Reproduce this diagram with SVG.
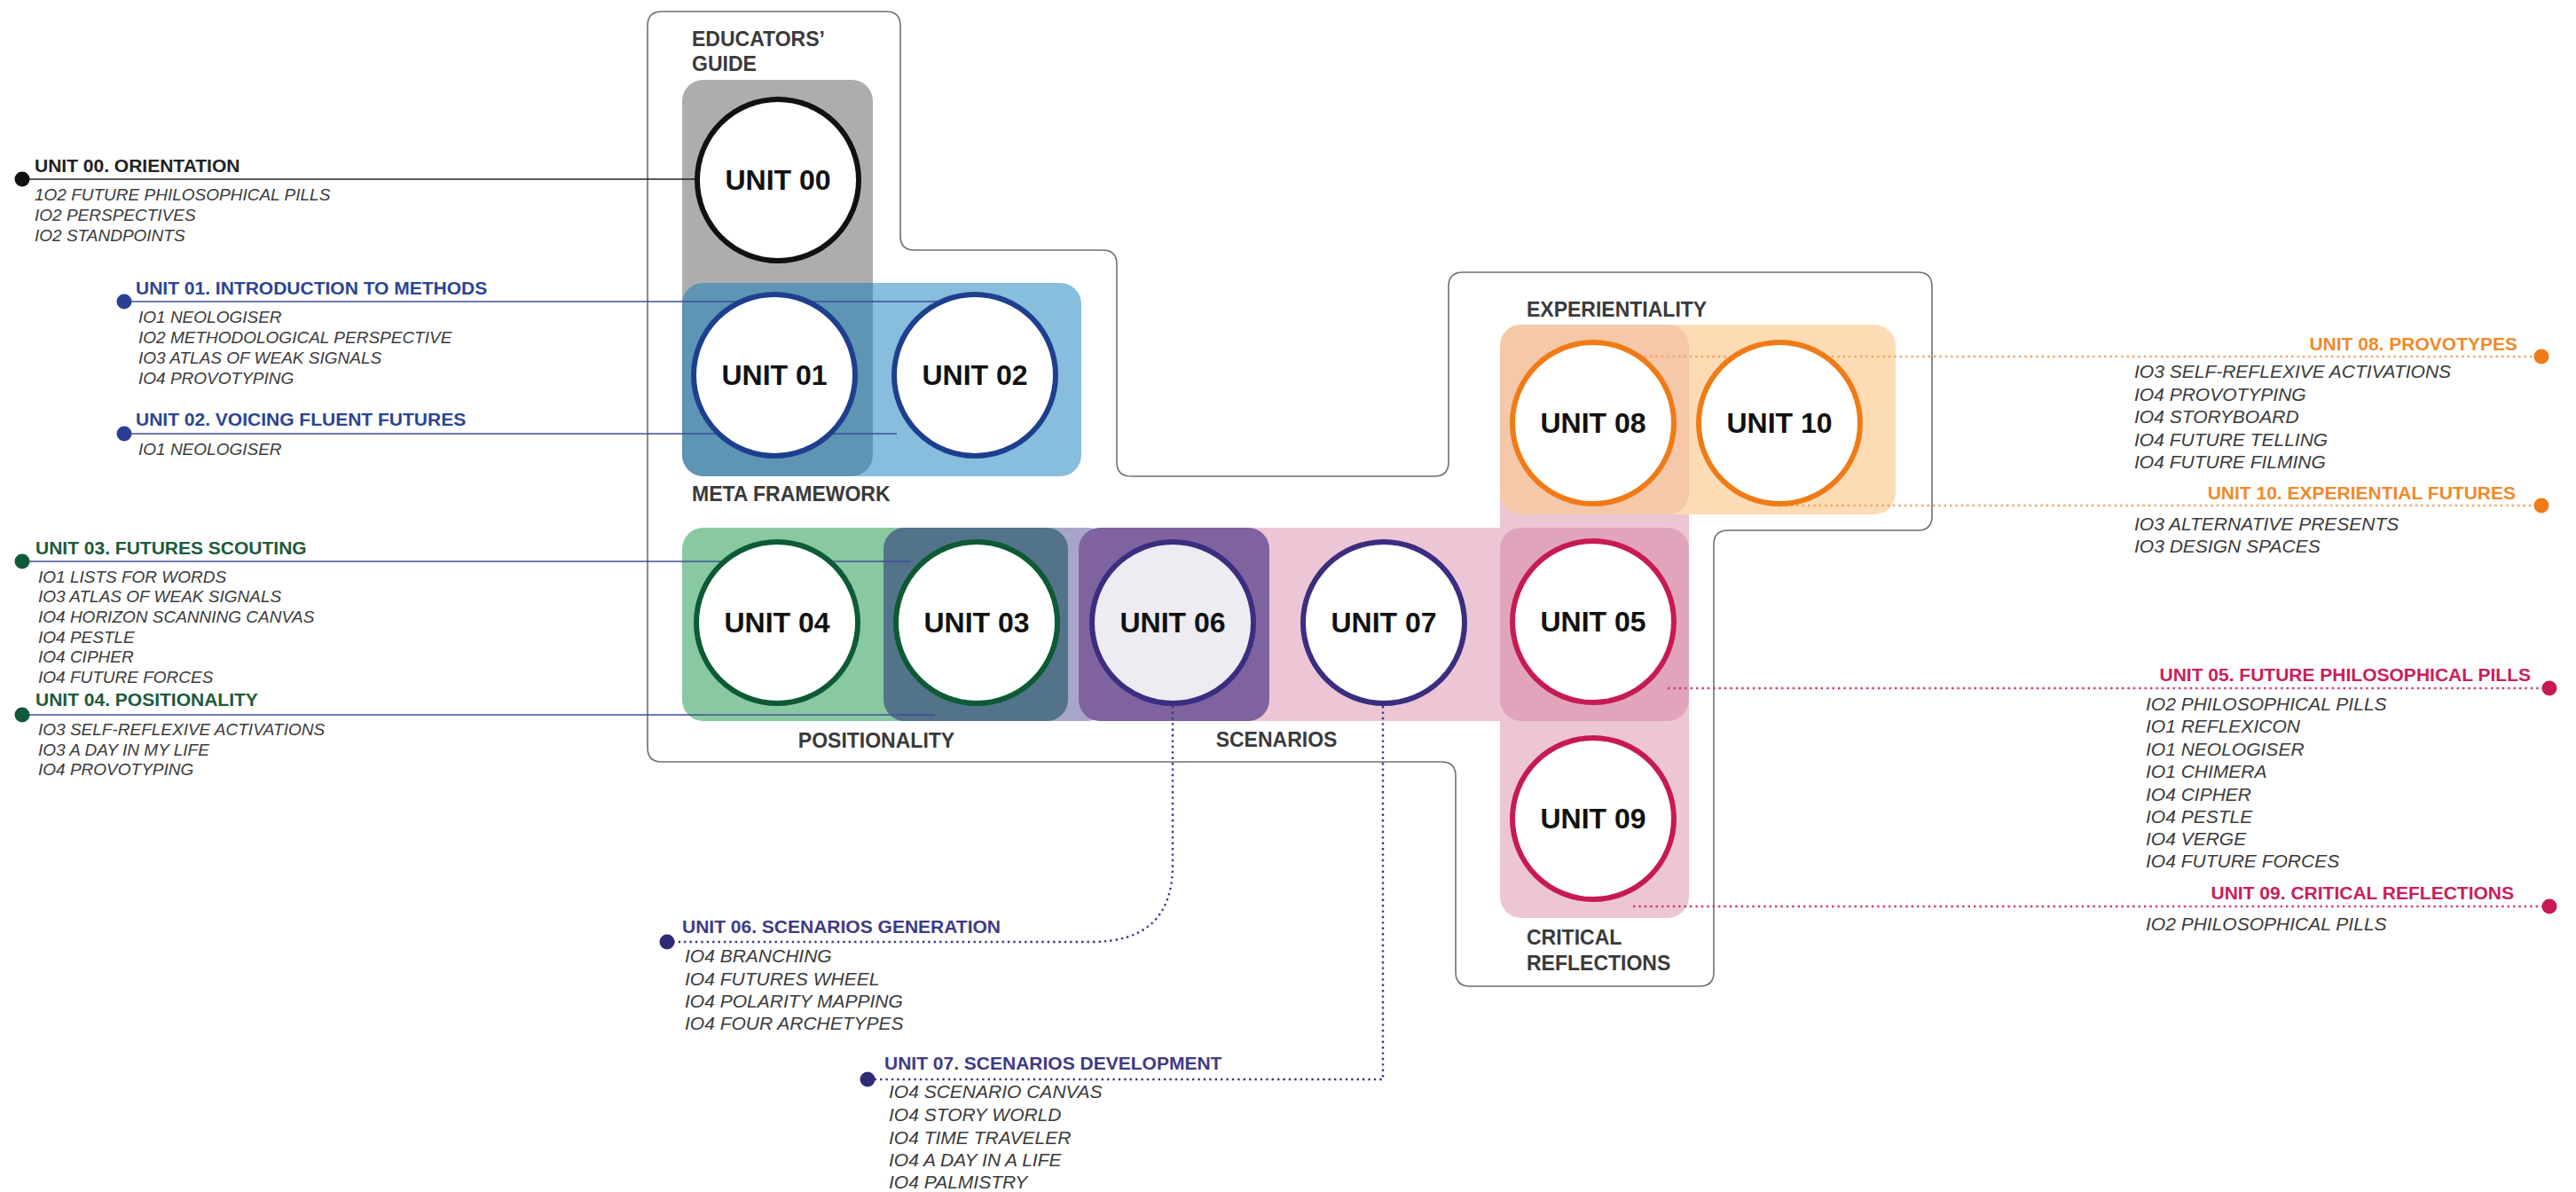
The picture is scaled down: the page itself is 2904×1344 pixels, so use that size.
<svg xmlns="http://www.w3.org/2000/svg" width="2904" height="1344" viewBox="0 0 2904 1344">
<style>
text{font-family:"Liberation Sans",Arial,Helvetica,sans-serif}
.grp{font-size:23px;font-weight:bold;fill:#3a3a3a}
.big{font-size:32px;font-weight:bold;fill:#111;text-anchor:middle}
.hd{font-size:21px;font-weight:bold}
.itL{font-size:19px;font-style:italic;fill:#3a3a3a}
.itR{font-size:21px;font-style:italic;fill:#3a3a3a}
.circ{fill:#fff;stroke-width:6}
.solid{fill:none;stroke-width:1.6}
.dot{fill:none;stroke-width:2.4;stroke-dasharray:2.4 4}
</style>
<rect width="2904" height="1344" fill="#fff"/>
<g id="outline">
<path d="M 746,13 H 999 Q 1015,13 1015,29 V 266 Q 1015,282 1031,282 H 1243 Q 1259,282 1259,298 V 521 Q 1259,537 1275,537 H 1617 Q 1633,537 1633,521 V 323 Q 1633,307 1649,307 H 2162 Q 2178,307 2178,323 V 582 Q 2178,598 2162,598 H 1948 Q 1932,598 1932,614 V 1096 Q 1932,1112 1916,1112 H 1657 Q 1641,1112 1641,1096 V 875 Q 1641,859 1625,859 H 746 Q 730,859 730,843 V 29 Q 730,13 746,13 Z" fill="none" stroke="#707070" stroke-width="1.6"/>
</g>
<g id="group-backgrounds">
<rect x="769" y="90" width="215" height="447" rx="24" fill="#adadad"/>
<rect x="769" y="319" width="450" height="218" rx="24" fill="#0f7cbc" fill-opacity="0.5"/>
<rect x="1232" y="595" width="672" height="218" rx="24" fill="#ecc6d5"/>
<rect x="996" y="595" width="254" height="218" rx="24" fill="#a7a5ca"/>
<rect x="769" y="595" width="435" height="218" rx="24" fill="#88c9a1"/>
<rect x="996" y="595" width="208" height="218" rx="24" fill="#52738a"/>
<rect x="1216" y="595" width="215" height="218" rx="24" fill="#7f63a1"/>
<rect x="1691" y="366" width="213" height="669" rx="24" fill="#ecc6d5"/>
<rect x="1691" y="595" width="213" height="218" rx="24" fill="#e0a5bd"/>
<rect x="1691" y="366" width="446" height="214" rx="24" fill="#fddcb5"/>
<rect x="1691" y="366" width="213" height="214" rx="24" fill="#f4c8a8"/>
</g>
<g id="group-labels">
<text class="grp" x="780" y="52">EDUCATORS’</text>
<text class="grp" x="780" y="80">GUIDE</text>
<text class="grp" x="780" y="565">META FRAMEWORK</text>
<text class="grp" x="1721" y="357">EXPERIENTIALITY</text>
<text class="grp" x="988" y="843" text-anchor="middle">POSITIONALITY</text>
<text class="grp" x="1439" y="842" text-anchor="middle">SCENARIOS</text>
<text class="grp" x="1721" y="1065">CRITICAL</text>
<text class="grp" x="1721" y="1094">REFLECTIONS</text>
</g>
<g id="connectors">
<path class="solid" stroke="#222" d="M 25,202 H 785"/>
<path class="solid" stroke="#3a4f9e" d="M 140,340 H 1057"/>
<path class="solid" stroke="#3a4f9e" d="M 140,489 H 1011"/>
<path class="solid" stroke="#3f4f96" d="M 25,633 H 1027"/>
<path class="solid" stroke="#3f4f96" d="M 25,806 H 1054"/>
<path class="dot" stroke="#3f3a86" d="M 1322,796 V 975 C 1322,1035 1290,1062 1230,1062 H 752"/>
<path class="dot" stroke="#3f3a86" d="M 1559,796 V 1217 H 978"/>
<path class="dot" stroke="#f4a262" d="M 1796,402 H 2865"/>
<path class="dot" stroke="#f4a262" d="M 2006,570 H 2865"/>
<path class="dot" stroke="#d23a6e" d="M 1880,776 H 2874"/>
<path class="dot" stroke="#d23a6e" d="M 1841,1022 H 2874"/>
<circle cx="25" cy="202" r="8.5" fill="#111"/>
<circle cx="140" cy="340" r="8.5" fill="#2a3f93"/>
<circle cx="140" cy="489" r="8.5" fill="#2a3f93"/>
<circle cx="25" cy="633" r="8.5" fill="#0f5a3a"/>
<circle cx="25" cy="806" r="8.5" fill="#0f5a3a"/>
<circle cx="752" cy="1062" r="8.5" fill="#2f2a78"/>
<circle cx="978" cy="1217" r="8.5" fill="#2f2a78"/>
<circle cx="2865" cy="402" r="8.5" fill="#f07b16"/>
<circle cx="2865" cy="570" r="8.5" fill="#f07b16"/>
<circle cx="2874" cy="776" r="8.5" fill="#c81a52"/>
<circle cx="2874" cy="1022" r="8.5" fill="#c81a52"/>
</g>
<g id="unit00"><circle class="circ" cx="877" cy="203" r="91" stroke="#111"/><text class="big" x="877" y="214">UNIT 00</text></g>
<g id="unit01"><circle class="circ" cx="873" cy="423" r="91" stroke="#1e3f8e"/><text class="big" x="873" y="434">UNIT 01</text></g>
<g id="unit02"><circle class="circ" cx="1099" cy="423" r="91" stroke="#1e3f8e"/><text class="big" x="1099" y="434">UNIT 02</text></g>
<g id="unit04"><circle class="circ" cx="876" cy="702" r="91" stroke="#0d5a35"/><text class="big" x="876" y="713">UNIT 04</text></g>
<g id="unit03"><circle class="circ" cx="1101" cy="702" r="91" stroke="#0d5a35"/><text class="big" x="1101" y="713">UNIT 03</text></g>
<g id="unit06"><circle class="circ" cx="1322" cy="702" r="91" stroke="#3b2d80" style="fill:#eeebf3"/><text class="big" x="1322" y="713">UNIT 06</text></g>
<g id="unit07"><circle class="circ" cx="1560" cy="702" r="91" stroke="#3b2d80"/><text class="big" x="1560" y="713">UNIT 07</text></g>
<g id="unit05"><circle class="circ" cx="1796" cy="701" r="91" stroke="#c81a52"/><text class="big" x="1796" y="712">UNIT 05</text></g>
<g id="unit08"><circle class="circ" cx="1796" cy="477" r="91" stroke="#f07b16"/><text class="big" x="1796" y="488">UNIT 08</text></g>
<g id="unit10"><circle class="circ" cx="2006" cy="477" r="91" stroke="#f07b16"/><text class="big" x="2006" y="488">UNIT 10</text></g>
<g id="unit09"><circle class="circ" cx="1796" cy="923" r="91" stroke="#c81a52"/><text class="big" x="1796" y="934">UNIT 09</text></g>
<g id="desc-unit00">
<text class="hd" x="39" y="194" fill="#222">UNIT 00. ORIENTATION</text>
<text class="itL" x="39" y="226">1O2 FUTURE PHILOSOPHICAL PILLS</text>
<text class="itL" x="39" y="249">IO2 PERSPECTIVES</text>
<text class="itL" x="39" y="272">IO2 STANDPOINTS</text>
</g>
<g id="desc-unit01">
<text class="hd" x="153" y="332" fill="#2d4591">UNIT 01. INTRODUCTION TO METHODS</text>
<text class="itL" x="156" y="364">IO1 NEOLOGISER</text>
<text class="itL" x="156" y="387">IO2 METHODOLOGICAL PERSPECTIVE</text>
<text class="itL" x="156" y="410">IO3 ATLAS OF WEAK SIGNALS</text>
<text class="itL" x="156" y="433">IO4 PROVOTYPING</text>
</g>
<g id="desc-unit02">
<text class="hd" x="153" y="480" fill="#2d4591">UNIT 02. VOICING FLUENT FUTURES</text>
<text class="itL" x="156" y="513">IO1 NEOLOGISER</text>
</g>
<g id="desc-unit03">
<text class="hd" x="40" y="625" fill="#1d5b3c">UNIT 03. FUTURES SCOUTING</text>
<text class="itL" x="43" y="657">IO1 LISTS FOR WORDS</text>
<text class="itL" x="43" y="679">IO3 ATLAS OF WEAK SIGNALS</text>
<text class="itL" x="43" y="702">IO4 HORIZON SCANNING CANVAS</text>
<text class="itL" x="43" y="725">IO4 PESTLE</text>
<text class="itL" x="43" y="747">IO4 CIPHER</text>
<text class="itL" x="43" y="770">IO4 FUTURE FORCES</text>
</g>
<g id="desc-unit04">
<text class="hd" x="40" y="796" fill="#1d5b3c">UNIT 04. POSITIONALITY</text>
<text class="itL" x="43" y="829">IO3 SELF-REFLEXIVE ACTIVATIONS</text>
<text class="itL" x="43" y="852">IO3 A DAY IN MY LIFE</text>
<text class="itL" x="43" y="874">IO4 PROVOTYPING</text>
</g>
<g id="desc-unit06">
<text class="hd" x="769" y="1052" fill="#3f3a86">UNIT 06. SCENARIOS GENERATION</text>
<text class="itR" x="772" y="1085">IO4 BRANCHING</text>
<text class="itR" x="772" y="1111">IO4 FUTURES WHEEL</text>
<text class="itR" x="772" y="1136">IO4 POLARITY MAPPING</text>
<text class="itR" x="772" y="1161">IO4 FOUR ARCHETYPES</text>
</g>
<g id="desc-unit07">
<text class="hd" x="997" y="1206" fill="#3f3a86">UNIT 07. SCENARIOS DEVELOPMENT</text>
<text class="itR" x="1002" y="1238">IO4 SCENARIO CANVAS</text>
<text class="itR" x="1002" y="1264">IO4 STORY WORLD</text>
<text class="itR" x="1002" y="1290">IO4 TIME TRAVELER</text>
<text class="itR" x="1002" y="1315">IO4 A DAY IN A LIFE</text>
<text class="itR" x="1002" y="1340">IO4 PALMISTRY</text>
</g>
<g id="desc-unit08">
<text class="hd" x="2838" y="395" fill="#f08a2a" text-anchor="end">UNIT 08. PROVOTYPES</text>
<text class="itR" x="2406" y="426">IO3 SELF-REFLEXIVE ACTIVATIONS</text>
<text class="itR" x="2406" y="452">IO4 PROVOTYPING</text>
<text class="itR" x="2406" y="477">IO4 STORYBOARD</text>
<text class="itR" x="2406" y="503">IO4 FUTURE TELLING</text>
<text class="itR" x="2406" y="528">IO4 FUTURE FILMING</text>
</g>
<g id="desc-unit10">
<text class="hd" x="2836" y="563" fill="#f08a2a" text-anchor="end">UNIT 10. EXPERIENTIAL FUTURES</text>
<text class="itR" x="2406" y="598">IO3 ALTERNATIVE PRESENTS</text>
<text class="itR" x="2406" y="623">IO3 DESIGN SPACES</text>
</g>
<g id="desc-unit05">
<text class="hd" x="2853" y="768" fill="#c8205a" text-anchor="end">UNIT 05. FUTURE PHILOSOPHICAL PILLS</text>
<text class="itR" x="2419" y="801">IO2 PHILOSOPHICAL PILLS</text>
<text class="itR" x="2419" y="826">IO1 REFLEXICON</text>
<text class="itR" x="2419" y="852">IO1 NEOLOGISER</text>
<text class="itR" x="2419" y="877">IO1 CHIMERA</text>
<text class="itR" x="2419" y="903">IO4 CIPHER</text>
<text class="itR" x="2419" y="928">IO4 PESTLE</text>
<text class="itR" x="2419" y="953">IO4 VERGE</text>
<text class="itR" x="2419" y="978">IO4 FUTURE FORCES</text>
</g>
<g id="desc-unit09">
<text class="hd" x="2834" y="1014" fill="#c8205a" text-anchor="end">UNIT 09. CRITICAL REFLECTIONS</text>
<text class="itR" x="2419" y="1049">IO2 PHILOSOPHICAL PILLS</text>
</g>
</svg>
